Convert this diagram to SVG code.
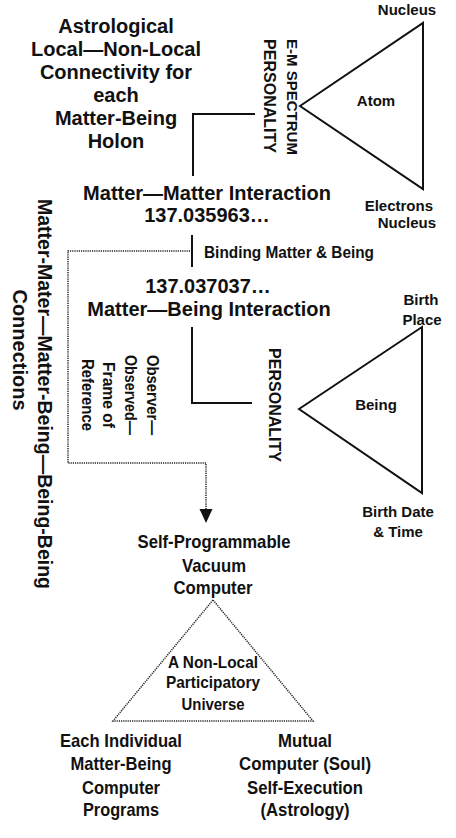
<svg xmlns="http://www.w3.org/2000/svg" width="456" height="838" viewBox="0 0 456 838">
<defs>
<style>
text{font-family:"Liberation Sans",Arial,sans-serif;font-weight:bold;fill:#111;}
.c{text-anchor:middle;}
.e{text-anchor:end;}
.s15{font-size:15px;}
.s16{font-size:16px;}
.s17{font-size:17px;}
.s19{font-size:19px;}
.s20{font-size:20px;}
.solid{fill:none;stroke:#111;stroke-width:2;}
.tri{fill:none;stroke:#111;stroke-width:2;stroke-linejoin:miter;}
.dot{fill:none;stroke:#222;stroke-width:1.5;stroke-dasharray:1.2 1;}
</style>
</defs>
<rect width="456" height="838" fill="#fff"/>

<g id="title">
<text class="c s20" x="116" y="33">Astrological</text>
<text class="c s20" x="116" y="56">Local—Non-Local</text>
<text class="c s20" x="116" y="79">Connectivity for</text>
<text class="c s20" x="116" y="102">each</text>
<text class="c s20" x="116" y="125">Matter-Being</text>
<text class="c s20" x="116" y="148">Holon</text>
</g>

<g id="atom">
<polygon class="tri" points="300,106 423,23 423,189"/>
<text class="c s15" x="376" y="106">Atom</text>
<text class="c s15" x="407" y="15">Nucleus</text>
<text class="e s15" x="433" y="211">Electrons</text>
<text class="e s15" x="436" y="228">Nucleus</text>
<text class="c s15" transform="translate(287,97) rotate(90)">E-M SPECTRUM</text>
<text class="c s16" transform="translate(264,96) rotate(90)">PERSONALITY</text>
</g>

<g id="matter-matter">
<text class="c s20" x="207" y="200">Matter—Matter Interaction</text>
<text class="c s20" x="207" y="222">137.035963…</text>
</g>

<g id="binding">
<text class="s17" x="204" y="258" textLength="170" lengthAdjust="spacingAndGlyphs">Binding Matter &amp; Being</text>
</g>

<g id="matter-being">
<text class="c s20" x="208" y="293">137.037037…</text>
<text class="c s20" x="209" y="316">Matter—Being Interaction</text>
</g>

<g id="observer">
<text class="c s17" transform="translate(147,395) rotate(90)" textLength="80" lengthAdjust="spacingAndGlyphs">Observer—</text>
<text class="c s17" transform="translate(125,395) rotate(90)" textLength="80" lengthAdjust="spacingAndGlyphs">Observed—</text>
<text class="c s17" transform="translate(103,395) rotate(90)" textLength="66" lengthAdjust="spacingAndGlyphs">Frame of</text>
<text class="c s17" transform="translate(82,395) rotate(90)" textLength="72" lengthAdjust="spacingAndGlyphs">Reference</text>
</g>

<g id="being">
<polygon class="tri" points="299,409 422,327 422,493"/>
<text class="c s15" x="376" y="410">Being</text>
<text class="c s15" x="421" y="305">Birth</text>
<text class="c s15" x="422" y="325">Place</text>
<text class="c s15" x="398" y="517">Birth Date</text>
<text class="c s15" x="398" y="537">&amp; Time</text>
<text class="c s16" transform="translate(269,405) rotate(90)">PERSONALITY</text>
</g>

<g id="connections-label">
<text class="c" style="font-size:19.5px" transform="translate(38,394) rotate(90)">Matter-Mater—Matter-Being—Being-Being</text>
<text class="c" style="font-size:20px" transform="translate(13,350) rotate(90)">Connections</text>
</g>

<g id="vacuum">
<text class="c s19" x="214" y="548" textLength="153" lengthAdjust="spacingAndGlyphs">Self-Programmable</text>
<text class="c s19" x="214" y="572" textLength="64" lengthAdjust="spacingAndGlyphs">Vacuum</text>
<text class="c s19" x="213" y="594" textLength="79" lengthAdjust="spacingAndGlyphs">Computer</text>
</g>

<g id="universe">
<polygon class="dot" points="213,600 113,721 313,721"/>
<text class="c s17" x="213" y="668" textLength="90" lengthAdjust="spacingAndGlyphs">A Non-Local</text>
<text class="c s17" x="213" y="688" textLength="94" lengthAdjust="spacingAndGlyphs">Participatory</text>
<text class="c s17" x="213" y="710" textLength="63" lengthAdjust="spacingAndGlyphs">Universe</text>
</g>

<g id="programs">
<text class="c s19" x="121" y="747" textLength="122" lengthAdjust="spacingAndGlyphs">Each Individual</text>
<text class="c s19" x="121" y="770" textLength="101" lengthAdjust="spacingAndGlyphs">Matter-Being</text>
<text class="c s19" x="121" y="794" textLength="78" lengthAdjust="spacingAndGlyphs">Computer</text>
<text class="c s19" x="121" y="816" textLength="76" lengthAdjust="spacingAndGlyphs">Programs</text>
</g>

<g id="soul">
<text class="c s19" x="305" y="747" textLength="54" lengthAdjust="spacingAndGlyphs">Mutual</text>
<text class="c s19" x="305" y="770" textLength="132" lengthAdjust="spacingAndGlyphs">Computer (Soul)</text>
<text class="c s19" x="305" y="794" textLength="116" lengthAdjust="spacingAndGlyphs">Self-Execution</text>
<text class="c s19" x="305" y="816" textLength="89" lengthAdjust="spacingAndGlyphs">(Astrology)</text>
</g>

<g id="connectors">
<polyline class="solid" points="255,114 193,114 193,176"/>
<line class="solid" x1="192" y1="235" x2="192" y2="267"/>
<polyline class="solid" points="192,327 192,403 252,403"/>
<polyline class="dot" points="190,251 68,251 68,463 206,463 206,509"/>
<path d="M199.5,509 L212.5,509 L206,523 Z" fill="#111"/>
</g>
</svg>
